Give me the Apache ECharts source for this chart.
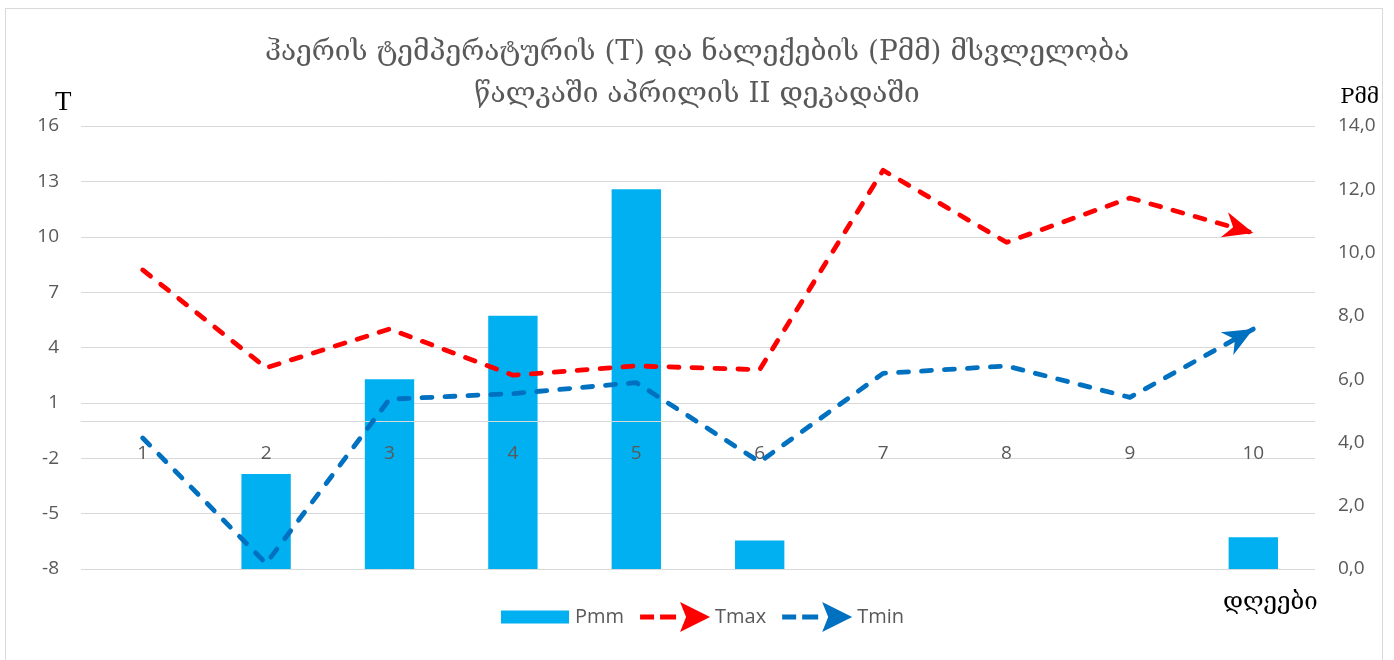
<!DOCTYPE html>
<html>
<head>
<meta charset="utf-8">
<script src="https://cdn.jsdelivr.net/npm/echarts@6/dist/echarts.min.js"></script>
<style>
html,body{margin:0;padding:0;background:#fff;}
#wrap{position:relative;width:1394px;height:660px;overflow:hidden;}
#frame{position:absolute;left:5px;top:8px;width:1378px;height:700px;border:1px solid #d9d9d9;box-sizing:border-box;}
#chart{position:absolute;left:0;top:0;width:1394px;height:660px;}
</style>
</head>
<body>
<div id="wrap"><div id="frame"></div><div id="chart"></div></div>
<script>
// ---- data ----
const days = ['1','2','3','4','5','6','7','8','9','10'];
const pmm  = [0, 3.0, 6.0, 8.0, 12.0, 0.9, 0, 0, 0, 1.0];
const tmax = [8.2, 2.9, 5.0, 2.5, 3.0, 2.8, 13.6, 9.7, 12.1, 10.2];
const tmin = [-0.9, -7.7, 1.2, 1.5, 2.1, -2.2, 2.6, 3.0, 1.3, 5.0];
const tTicks = {min: -8, max: 16, interval: 3};
const pTicks = {min: 0, max: 14, interval: 2};
const titleText = 'ჰაერის ტემპერატურის (T) და ნალექების (Pმმ) მსვლელობა\nწალკაში აპრილის II დეკადაში';
const seriesNames = ['Pmm', 'Tmax', 'Tmin'];

// ---- styles ----
const RED = '#FF0000', BLUE = '#0070C0', BAR = '#00B0F0', GRAY = '#595959', GRID = '#d9d9d9';
const LABEL_FONT = '"Open Sans", Lato, sans-serif';
const GEO_FONT = '"DejaVu Serif", "DejaVu Sans", serif';
const ARROW = 'path://M0,0 L30,13 L0,26 L9,13 Z';
const ARROW_LEN = 30;
const legendLineIcon = 'path://M0,0 M70,30 M0,12.5 L14,12.5 L14,17.5 L0,17.5 Z M20,12.5 L36,12.5 L36,17.5 L20,17.5 Z M40,0 L70,15 L40,30 L46,15 Z';
const legendBarIcon = 'path://M0,0 M70,30 M1,8.5 L69,8.5 L69,21.5 L1,21.5 Z';

const chart = echarts.init(document.getElementById('chart'), null, {renderer: 'canvas'});

function lineData(vals, arrow) {
  return vals.map((v, i) => {
    if (i === vals.length - 1) {
      return {value: v, symbol: ARROW, symbolSize: [30, 26], symbolKeepAspect: false,
              symbolRotate: arrow ? arrow.rot : 0, symbolOffset: arrow ? arrow.off : [0, 0]};
    }
    return {value: v, symbol: 'none'};
  });
}

function lineSeries(name, vals, color, arrow) {
  return {
    name: name, type: 'line', yAxisIndex: 0, z: 5,
    showSymbol: true, showAllSymbol: true,
    data: lineData(vals, arrow),
    itemStyle: {color: color},
    lineStyle: {color: color, width: 4.8, type: [10, 13], cap: 'round', join: 'round'},
    emphasis: {disabled: true},
    animation: false
  };
}

function buildOption(arrMax, arrMin, xOffset) {
  return {
    animation: false,
    textStyle: {fontFamily: LABEL_FONT},
    title: [
      {text: titleText, left: 'center', top: 27,
       textStyle: {fontFamily: GEO_FONT, fontSize: 28, fontWeight: 'normal', color: GRAY, lineHeight: 42}},
      {text: 'T', left: 50, top: 84, textStyle: {fontFamily: '"Liberation Serif", serif', fontSize: 27, fontWeight: 'normal', color: '#000'}},
      {text: 'Pმმ', right: 10, top: 82, textStyle: {fontFamily: GEO_FONT, fontSize: 21, fontWeight: 'normal', color: '#000'}},
      {text: 'დღეები', left: 1218, top: 586, textStyle: {fontFamily: GEO_FONT, fontSize: 24, fontWeight: 'normal', color: '#000'}}
    ],
    grid: {left: 81, right: 79, top: 126, bottom: 91, containLabel: false},
    legend: {
      left: 495, top: 597, itemWidth: 70, itemHeight: 30, itemGap: 16,
      textStyle: {fontFamily: LABEL_FONT, fontSize: 20, color: GRAY},
      selectedMode: false,
      data: [
        {name: seriesNames[0], icon: legendBarIcon, itemStyle: {color: BAR}},
        {name: seriesNames[1], icon: legendLineIcon, itemStyle: {color: RED, borderWidth: 0}},
        {name: seriesNames[2], icon: legendLineIcon, itemStyle: {color: BLUE, borderWidth: 0}}
      ]
    },
    xAxis: {
      type: 'category', data: days, boundaryGap: true, position: 'bottom', offset: xOffset || 0, z: 3,
      axisLine: {onZero: false, lineStyle: {color: GRID, width: 1}},
      axisTick: {show: false},
      axisLabel: {color: GRAY, fontSize: 19, margin: 23, fontFamily: LABEL_FONT},
      splitLine: {show: false}
    },
    yAxis: [
      {type: 'value', min: tTicks.min, max: tTicks.max, interval: tTicks.interval,
       axisLine: {show: false}, axisTick: {show: false},
       axisLabel: {color: GRAY, fontSize: 19, margin: 22, fontFamily: LABEL_FONT},
       splitLine: {show: true, lineStyle: {color: GRID, width: 1}}},
      {type: 'value', min: pTicks.min, max: pTicks.max, interval: pTicks.interval, position: 'right',
       axisLine: {show: false}, axisTick: {show: false},
       axisLabel: {color: GRAY, fontSize: 19, margin: 23, fontFamily: LABEL_FONT,
                   formatter: v => v.toFixed(1).replace('.', ',')},
       splitLine: {show: false}}
    ],
    series: [
      {name: seriesNames[0], type: 'bar', yAxisIndex: 1, data: pmm, barWidth: '40%', z: 2,
       itemStyle: {color: BAR}, emphasis: {disabled: true}},
      lineSeries(seriesNames[1], tmax, RED, arrMax),
      lineSeries(seriesNames[2], tmin, BLUE, arrMin)
    ]
  };
}

chart.setOption(buildOption(null, null, 0));

function arrowFor(seriesIndex, vals) {
  const n = vals.length;
  const a = chart.convertToPixel({seriesIndex: seriesIndex}, [n - 2, vals[n - 2]]);
  const b = chart.convertToPixel({seriesIndex: seriesIndex}, [n - 1, vals[n - 1]]);
  const dx = b[0] - a[0], dy = b[1] - a[1];
  const ang = Math.atan2(dy, dx);
  const rot = -ang * 180 / Math.PI;
  const off = [-ARROW_LEN / 2 * Math.cos(ang), -ARROW_LEN / 2 * Math.sin(ang)];
  return {rot: rot, off: off};
}

// move the category axis up to the T = 0 line
const zeroY = chart.convertToPixel({yAxisIndex: 0}, 0);
const bottomY = chart.convertToPixel({yAxisIndex: 0}, tTicks.min);
chart.setOption(buildOption(arrowFor(1, tmax), arrowFor(2, tmin), -(bottomY - zeroY)));
</script>
</body>
</html>
